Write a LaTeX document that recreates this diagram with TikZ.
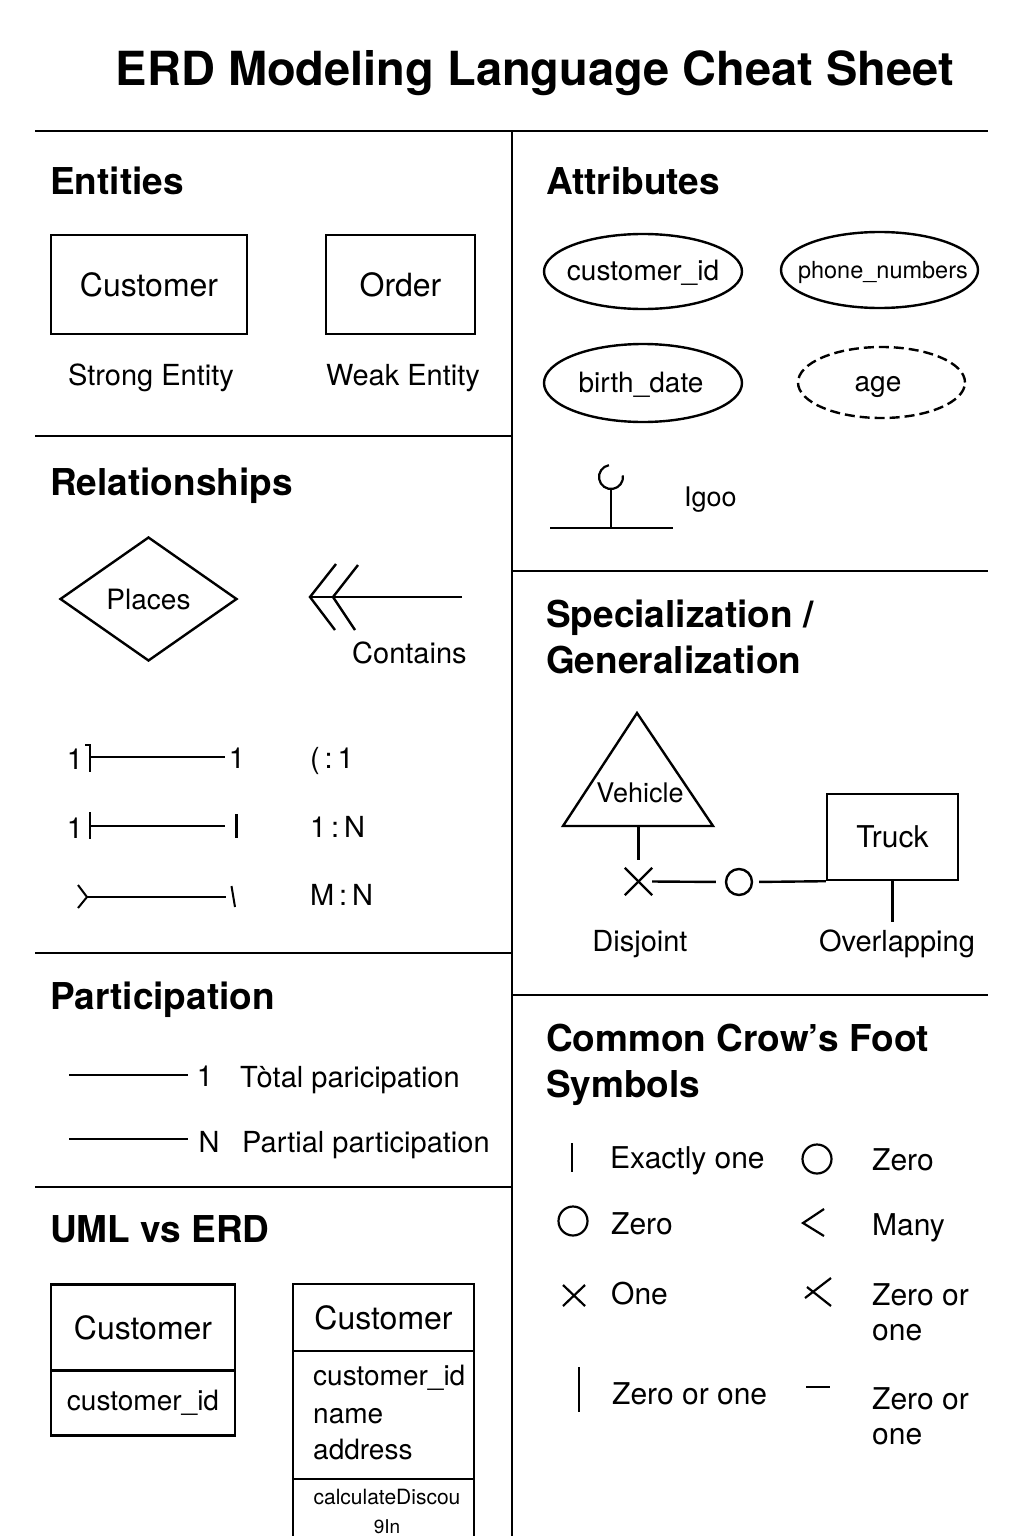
\documentclass[tikz,border=0pt]{standalone}
\usepackage{fontspec}
\setmainfont{TeX Gyre Heros}
\usetikzlibrary{shapes.geometric}
\newcommand{\fsz}[1]{\fontsize{#1}{#1}\selectfont}
\begin{document}
\begin{tikzpicture}[x=1pt,y=-1pt,
  ttl/.style={font=\fsz{47}\bfseries, anchor=base, inner sep=0},
  head/.style={font=\fsz{37}\bfseries, anchor=base west, inner sep=0},
  lbl/.style={font=\fsz{29}, anchor=base west, inner sep=0},
  clbl/.style={font=\fsz{29}, anchor=base, inner sep=0},
  divider/.style={line width=1.7pt},
  shp/.style={line width=2.4pt},
  ent/.style={draw, shp, rectangle, inner sep=0, font=\fsz{32}},
  attr/.style={draw, shp, ellipse, inner sep=0},
  attrtext/.style={font=\fsz{28}, anchor=base, inner sep=0},
]
\useasboundingbox (0,0) rectangle (1024,1536);
\fill[white] (0,0) rectangle (1024,1536);

% title
\node[ttl] (title) at (535,86) {ERD Modeling Language Cheat Sheet};

% dividers
\coordinate (tl) at (35,131); \coordinate (tr) at (988,131);
\coordinate (vt) at (512,131); \coordinate (vb) at (512,1536);
\draw[divider] (tl) -- (tr);
\draw[divider] (vt) -- (vb);
\draw[divider] (35,436) -- (512,436);
\draw[divider] (35,953) -- (512,953);
\draw[divider] (35,1187) -- (512,1187);
\draw[divider] (512,571) -- (988,571);
\draw[divider] (512,995) -- (988,995);

% ---------- Entities
\node[head] (hEnt) at (50,194) {Entities};
\node[ent, minimum width=196pt, minimum height=99pt] (cust) at (149,284.5) {Customer};
\node[ent, minimum width=149pt, minimum height=99pt] (order) at (400.5,284.5) {Order};
\node[clbl] (strong) at (151,385) {Strong Entity};
\node[clbl] (weak) at (403,385) {Weak Entity};

% ---------- Relationships
\node[head] (hRel) at (50,495) {Relationships};
\node[draw, shp, diamond, minimum width=177pt, minimum height=124pt, inner sep=0, font=\fsz{28}] (places) at (148.5,599) {Places};
\coordinate (arTip) at (310,597);
\coordinate (arEnd) at (462,597);
\draw[shp] (arEnd) -- (arTip);
\draw[shp] (336,564) -- (arTip) -- (335,630);
\draw[shp] (358,565) -- (333,597) -- (355,630);
\node[lbl] (contains) at (352,663) {Contains};

% cardinalities
\node[clbl] (r1a) at (75,769) {1};
\draw[shp, line width=2pt] (85,745) -- (90,745) -- (90,772);
\coordinate (r1s) at (90,757); \coordinate (r1e) at (225,757);
\draw[shp, line width=2pt] (r1s) -- (r1e);
\node[clbl] (r1b) at (237,768) {1};
\node[lbl] (r1c) at (310,768) {(\,:\,1};

\node[clbl] (r2a) at (75,838) {1};
\draw[shp, line width=2pt] (90,812) -- (90,839);
\coordinate (r2s) at (90,826); \coordinate (r2e) at (225,826);
\draw[shp, line width=2pt] (r2s) -- (r2e);
\draw[shp, line width=2.6pt] (236.5,814) -- (236.5,838);
\node[lbl] (r2c) at (310,837) {1\,:\,N};

\coordinate (r3s) at (87,897); \coordinate (r3e) at (226,897);
\draw[shp, line width=2pt] (78,885) -- (r3s) -- (78,908);
\draw[shp, line width=2pt] (r3s) -- (r3e);
\draw[shp, line width=2pt] (231.5,886) -- (235,907);
\node[lbl] (r3c) at (310,905) {M\,:\,N};

% ---------- Participation
\node[head] (hPar) at (50,1009) {Participation};
\coordinate (p1s) at (69,1075); \coordinate (p1e) at (188,1075);
\draw[shp, line width=2pt] (p1s) -- (p1e);
\node[clbl] (p1n) at (205,1086) {1};
\node[lbl] (p1t) at (240,1087) {Tòtal paricipation};
\coordinate (p2s) at (69,1139); \coordinate (p2e) at (188,1139);
\draw[shp, line width=2pt] (p2s) -- (p2e);
\node[clbl] (p2n) at (209,1152) {N};
\node[lbl] (p2t) at (242,1152) {Partial participation};

% ---------- UML vs ERD
\node[head] (hUml) at (50,1242) {UML vs ERD};
\node[ent, minimum width=184pt, minimum height=86pt] (u1top) at (143,1327.5) {Customer};
\node[ent, minimum width=184pt, minimum height=65pt, font=\fsz{28}] (u1bot) at (143,1403) {customer\_id};

\node[ent, minimum width=181pt, minimum height=67pt] (u2top) at (383.5,1317.5) {Customer};
\node[ent, minimum width=181pt, minimum height=128pt] (u2mid) at (383.5,1415) {};
\node[ent, minimum width=181pt, minimum height=81pt] (u2bot) at (383.5,1519.5) {};
\node[font=\fsz{28}, anchor=base west, inner sep=0] (u2a) at (313,1385) {customer\_id};
\node[font=\fsz{28}, anchor=base west, inner sep=0] (u2b) at (313,1423) {name};
\node[font=\fsz{28}, anchor=base west, inner sep=0] (u2c) at (313,1459) {address};
\node[font=\fsz{21}, anchor=base, inner sep=0] (u2d) at (387,1504) {calculateDiscou};
\node[font=\fsz{19}, anchor=base, inner sep=0] (u2e) at (387,1533) {9In};

% ---------- Attributes
\node[head] (hAtt) at (546,194) {Attributes};
\node[attr, minimum width=198pt, minimum height=75pt] (aCid) at (643,271.5) {};
\node[attrtext] (tCid) at (643,280) {customer\_id};
\node[attr, minimum width=197pt, minimum height=76pt] (aPh) at (879.5,270) {};
\node[attrtext, font=\fsz{23.5}] (tPh) at (883,278) {phone\_numbers};
\node[attr, minimum width=198pt, minimum height=78pt] (aBd) at (643,383) {};
\node[attrtext] (tBd) at (641,392) {birth\_date};
\node[attr, dashed, dash pattern=on 10pt off 5pt, minimum width=167pt, minimum height=71pt] (aAge) at (881.5,382.5) {};
\node[attrtext] (tAge) at (878,391) {age};

\coordinate (igL) at (550,528); \coordinate (igR) at (673,528);
\coordinate (igB) at (611,528); \coordinate (igT) at (611,489);
\draw[shp, line width=2.2pt] (igL) -- (igR);
\draw[shp, line width=2.2pt] (igB) -- (igT);
\draw[shp, line width=2.2pt] (611,477) ++(260:12) arc[start angle=260, end angle=-8, radius=12];
\node[font=\fsz{27}, anchor=base west, inner sep=0] (igoo) at (684,506) {Igoo};

% ---------- Specialization
\node[head] (hSp1) at (546,627) {Specialization /};
\node[head] (hSp2) at (546,673) {Generalization};
\coordinate (tA) at (637,713); \coordinate (tL) at (563,826); \coordinate (tR) at (713,826);
\draw[shp, line join=miter] (tA) -- (tL) -- (tR) -- cycle;
\node[font=\fsz{27}, anchor=base, inner sep=0] (veh) at (640,802) {Vehicle};
\coordinate (vStem) at (638.5,826);
\node[minimum size=27pt, inner sep=0] (dx) at (638.5,881.5) {};
\draw[shp] (dx.north west) -- (dx.south east);
\draw[shp] (dx.north east) -- (dx.south west);
\draw[shp] (vStem) -- (dx.north) [shorten >=8pt];
\node[draw, shp, circle, minimum size=26pt, inner sep=0] (oc) at (739,882) {};
\node[ent, minimum width=131pt, minimum height=86pt, font=\fsz{30}] (truck) at (892.5,837) {Truck};
\draw[shp, shorten >=9pt] (dx.east) -- (oc.west);
\draw[shp, shorten <=6pt] (oc.east) -- (truck.south west);
\coordinate (trEnd) at (892.5,922);
\draw[shp] (truck.south) -- (trEnd);
\node[clbl] (disj) at (640,951) {Disjoint};
\node[clbl] (ovl) at (897,951) {Overlapping};

% ---------- Crow's foot
\node[head] (hCf1) at (546,1051) {Common Crow’s Foot};
\node[head] (hCf2) at (546,1097) {Symbols};
\tikzset{cf/.style={font=\fsz{30}, anchor=base west, inner sep=0, align=left}}
\draw[shp, line width=2.2pt] (572,1143) -- (572,1172);
\node[cf] (c1) at (610,1168) {Exactly one};
\node[draw, shp, line width=2.2pt, circle, minimum size=29pt, inner sep=0] (o1) at (817,1159) {};
\node[cf] (c2) at (872,1170) {Zero};
\node[draw, shp, line width=2.2pt, circle, minimum size=29pt, inner sep=0] (o2) at (573,1221) {};
\node[cf] (c3) at (611,1234) {Zero};
\draw[shp, line width=2.2pt] (824,1209) -- (803,1223) -- (824,1236);
\node[cf] (c4) at (872,1235) {Many};
\draw[shp, line width=2.2pt] (563,1285) -- (585,1306);
\draw[shp, line width=2.2pt] (585,1285) -- (563,1306);
\node[cf] (c5) at (611,1304) {One};
\draw[shp, line width=2.2pt] (831,1278) -- (805,1298);
\draw[shp, line width=2.2pt] (807,1287) -- (831,1306);
\node[cf] (c6) at (872,1305) {Zero or};
\node[cf] (c6b) at (872,1340) {one};
\draw[shp, line width=2.2pt] (579,1367) -- (579,1412);
\node[cf] (c7) at (612,1404) {Zero or one};
\draw[shp, line width=2.2pt] (806,1387) -- (830,1387);
\node[cf] (c8) at (872,1409) {Zero or};
\node[cf] (c8b) at (872,1444) {one};
\end{tikzpicture}
\end{document}
